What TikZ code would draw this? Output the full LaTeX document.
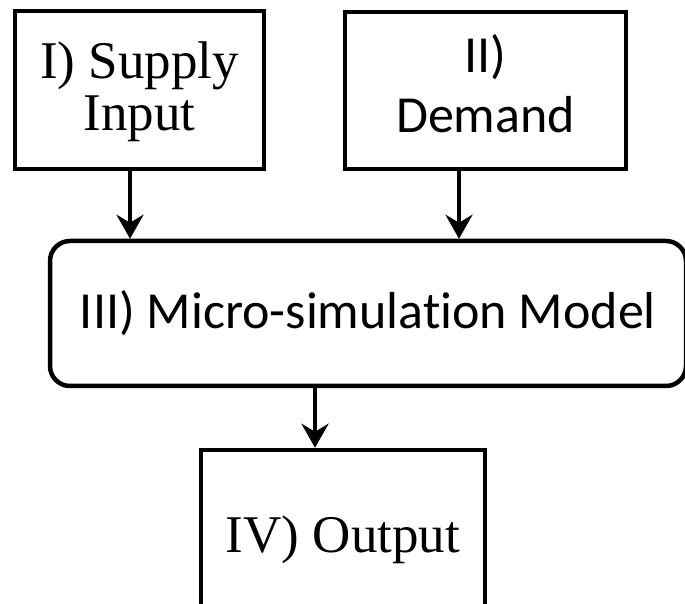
\documentclass[tikz,border=0pt]{standalone}
\usepackage{fontspec}
\setmainfont{Liberation Serif}
\newfontfamily\calibri[Ligatures=NoCommon]{Carlito}
\usetikzlibrary{arrows.meta}

\begin{document}
\begin{tikzpicture}[x=1pt, y=1pt, line width=4.5pt, line join=miter,
		>={Stealth[length=24pt,width=27pt,inset=8pt]},
		box/.style={draw, rectangle, align=center, inner sep=0pt, font=\fontsize{53}{52}\selectfont},
		sbox/.style={box, font=\calibri\fontsize{52}{60}\selectfont}]
	\useasboundingbox (0,0) rectangle (685,604);
	\clip (0,0) rectangle (685,604);
	% boxes
	\node[box, minimum width=249pt, minimum height=158pt] (supply) at (139.5,514) {};
	\node[sbox, minimum width=281pt, minimum height=157pt] (demand) at (485.5,513.5) {};
	\node[sbox, rounded corners=20pt, minimum width=636pt, minimum height=145pt] (model) at (368,290.5) {III) Micro-simulation Model};
	\node[box, minimum width=284pt, minimum height=180pt] (output) at (343,64) {IV) Output};
	% texts
	\node[box, draw=none] (supplytext) at ([yshift=-2pt]supply.center) {I) Supply\\Input};
	\node[sbox, draw=none] (demandtext) at ([yshift=7pt]demand.center) {II)\\Demand};
	% arrows
	\draw[->] ([xshift=-9.5pt]supply.south) -- ([xshift=-9.5pt]supply.south |- model.north);
	\draw[->] ([xshift=-26.5pt]demand.south) -- ([xshift=-26.5pt]demand.south |- model.north);
	\draw[->] ([xshift=-53pt]model.south) -- ([xshift=-53pt]model.south |- output.north);
\end{tikzpicture}
\end{document}
